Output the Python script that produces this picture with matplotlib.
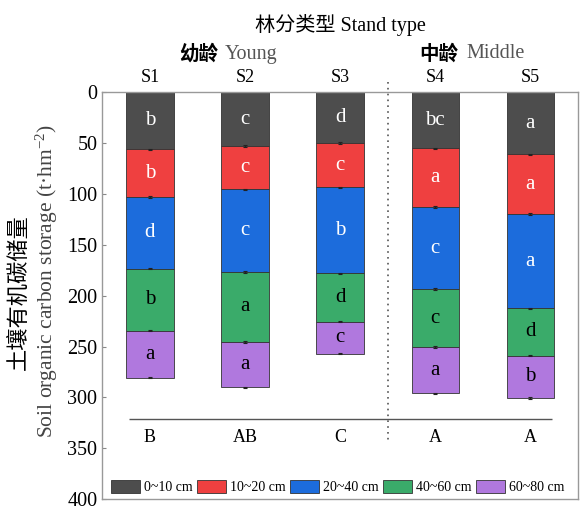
import matplotlib
matplotlib.use("Agg")
import matplotlib.pyplot as plt
import numpy as np

# stand plots and soil layers
sites = ["S1", "S2", "S3", "S4", "S5"]
layers = ["0~10 cm", "10~20 cm", "20~40 cm", "40~60 cm", "60~80 cm"]

# carbon storage per layer (t·hm-2)
layer_0_10 = [56.2, 52.9, 49.7, 55.2, 61.1]
layer_10_20 = [46.4, 42.5, 43.8, 57.8, 58.5]
layer_20_40 = [70.7, 81.1, 84.6, 80.5, 92.8]
layer_40_60 = [61.0, 68.9, 47.4, 57.1, 46.4]
layer_60_80 = [46.1, 44.8, 31.4, 45.4, 41.5]

# tiny error bars at the segment ends
layer_err = [0.8, 0.8, 0.8, 0.8, 0.8]

# significance letters
letters_0_10 = ["b", "c", "d", "bc", "a"]
letters_10_20 = ["b", "c", "c", "a", "a"]
letters_20_40 = ["d", "c", "b", "c", "a"]
letters_40_60 = ["b", "a", "d", "c", "d"]
letters_60_80 = ["a", "a", "c", "a", "b"]
total_letters = ["B", "AB", "C", "A", "A"]

colors = ["#4d4d4d", "#ef4040", "#1c6cdc", "#3aab6a", "#b078de"]
text_colors = ["white", "white", "white", "black", "black"]

serif = ["Liberation Serif", "Noto Sans CJK SC"]
cjk = ["Noto Sans CJK SC", "Liberation Serif"]
plt.rcParams["font.family"] = serif
plt.rcParams["mathtext.fontset"] = "custom"
plt.rcParams["mathtext.rm"] = "Liberation Serif"
plt.rcParams["mathtext.default"] = "regular"

fig = plt.figure(figsize=(5.88, 5.13), dpi=100)
ax = fig.add_axes([0.174, 0.027, 0.809, 0.793])

x = np.arange(1, len(sites) + 1)
values = [layer_0_10, layer_10_20, layer_20_40, layer_40_60, layer_60_80]
letters = [letters_0_10, letters_10_20, letters_20_40, letters_40_60, letters_60_80]

bottom = np.zeros(len(sites))
for vals, lab, col, tcol, let in zip(values, layers, colors, text_colors, letters):
    vals = np.array(vals)
    ax.bar(x, vals, width=0.5, bottom=bottom, color=col, edgecolor="#333333",
           linewidth=0.6, label=lab, zorder=2)
    for xi, b, v, t in zip(x, bottom, vals, let):
        ax.text(xi, b + v / 2, t, ha="center", va="center", color=tcol,
                fontsize=15, zorder=4)
    bottom = bottom + vals
    ax.errorbar(x, bottom, yerr=layer_err, fmt="none", ecolor="#222222",
                elinewidth=0.8, capsize=1.5, capthick=0.8, zorder=3)

ax.set_xlim(0.5, 5.5)
ax.set_ylim(400, 0)
ax.set_yticks(np.arange(0, 401, 50))
ax.tick_params(axis="y", direction="in", length=3, labelsize=14.5, color="#888888")
ax.set_xticks([])
for s in ax.spines.values():
    s.set_color("#999999")
    s.set_linewidth(1.0)

# site labels above the axes
for xi, s in zip(x, sites):
    ax.text(xi, -6, s, ha="center", va="bottom", fontsize=13)

# total letters under the separator line
ax.hlines(321, 0.78, 5.23, color="#555555", linewidth=1.0)
for xi, t in zip(x, total_letters):
    ax.text(xi, 339, t, ha="center", va="center", fontsize=13)

# dotted split between young and middle stands
ax.vlines(3.5, -10, 345, colors="#555555", linestyles=(0, (1, 2.5)),
          linewidth=1.2, clip_on=False)

leg = ax.legend(loc="center", bbox_to_anchor=(0.495, 0.03), ncol=5, frameon=False,
                fontsize=10, handlelength=2.1, handleheight=1.1,
                handletextpad=0.3, columnspacing=0.3, borderaxespad=0)

# headers
fig.text(340 / 588, 1 - 25 / 513, "林分类型 Stand type", ha="center", va="center",
         fontsize=14.5, family=serif)
fig.text(218 / 588, 1 - 54 / 513, "幼龄", ha="right", va="center", fontsize=14,
         family=cjk, weight="bold")
fig.text(225 / 588, 1 - 54 / 513, "Young", ha="left", va="center", fontsize=14.5,
         color="#555555")
fig.text(458 / 588, 1 - 54 / 513, "中龄", ha="right", va="center", fontsize=14,
         family=cjk, weight="bold")
fig.text(466 / 588, 1 - 54 / 513, "Middle", ha="left", va="center", fontsize=14.5,
         color="#555555")

# y axis label, two lines
fig.text(18 / 588, 1 - 292 / 513, "土壤有机碳储量", rotation=90, ha="center",
         va="center", fontsize=16, family=cjk, weight="medium")
fig.text(47 / 588, 1 - 281 / 513, "Soil organic carbon storage (t·hm$^{-2}$)",
         rotation=90, ha="center", va="center", fontsize=15.5, color="#444444")

fig.savefig("out.png", dpi=100)
